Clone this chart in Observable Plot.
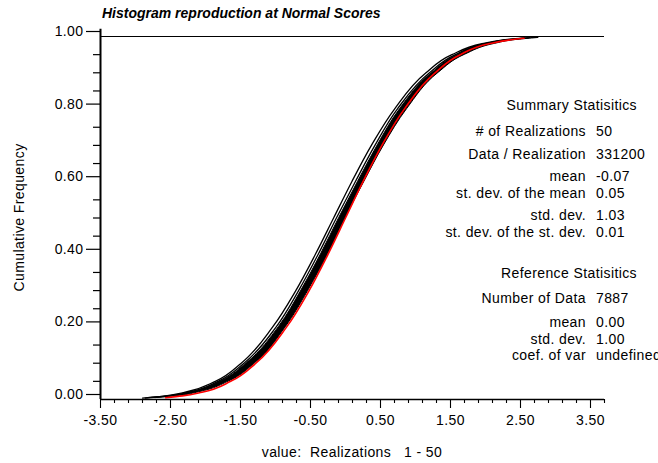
<!DOCTYPE html>
<html><head><meta charset="utf-8">
<script src="https://cdn.jsdelivr.net/npm/d3@7"></script>
<script src="https://cdn.jsdelivr.net/npm/@observablehq/plot@0.6"></script>
<style>
html,body{margin:0;padding:0;background:#fff;}
#chart{width:658px;height:463px;overflow:hidden;}
#chart svg{display:block;}
</style></head><body><div id="chart"></div>
<script>
// ---- text ----
const title = "Histogram reproduction at Normal Scores";
const xLabel = "value:  Realizations   1 - 50";
const yLabel = "Cumulative Frequency";

// ---- axis ticks ----
const xDomain = [-3.5, 3.7];
const yDomain = [0, 1];
const xMajorTicks = [-3.5, -2.5, -1.5, -0.5, 0.5, 1.5, 2.5, 3.5];
const xMinorTicks = [-3.3, -3.1, -2.9, -2.7, -2.3, -2.1, -1.9, -1.7, -1.3, -1.1, -0.9, -0.7,
  -0.3, -0.1, 0.1, 0.3, 0.7, 0.9, 1.1, 1.3, 1.7, 1.9, 2.1, 2.3, 2.7, 2.9, 3.1, 3.3, 3.7];
const yMajorTicks = [0, 0.2, 0.4, 0.6, 0.8, 1.0];
const yMinorTicks = [0.05, 0.1, 0.15, 0.25, 0.3, 0.35, 0.45, 0.5, 0.55, 0.65, 0.7, 0.75, 0.85, 0.9, 0.95];

// ---- realizations (values read at fixed cumulative frequencies) ----
const cumFreq = [0.004, 0.01, 0.02, 0.05, 0.10, 0.20, 0.30, 0.40, 0.50, 0.60, 0.70, 0.80, 0.90, 0.95, 0.98, 0.99, 0.996];
const outerRealization = [-2.90, -2.57, -2.29, -1.86, -1.49, -1.04, -0.71, -0.43, -0.17, 0.09, 0.37, 0.70, 1.15, 1.52, 1.95, 2.23, 2.56];
const secondRealization = [-2.86, -2.52, -2.24, -1.82, -1.45, -0.99, -0.67, -0.39, -0.13, 0.14, 0.42, 0.74, 1.20, 1.57, 1.99, 2.27, 2.61];
const bundleLeft  = [-2.82, -2.48, -2.20, -1.78, -1.41, -0.95, -0.63, -0.35, -0.09, 0.18, 0.46, 0.78, 1.24, 1.61, 2.03, 2.31, 2.65];
const bundleRight = [-2.70, -2.37, -2.09, -1.66, -1.29, -0.85, -0.53, -0.25, 0.00, 0.27, 0.55, 0.88, 1.33, 1.71, 2.14, 2.42, 2.76];

// ---- reference distribution (red) ----
const refFreq   = [0.005, 0.01, 0.02, 0.05, 0.10, 0.20, 0.30, 0.40, 0.50, 0.60, 0.70, 0.80, 0.90, 0.95, 0.98, 0.99, 0.995];
const refValues = [-2.57, -2.33, -2.05, -1.64, -1.28, -0.84, -0.52, -0.25, 0.00, 0.25, 0.52, 0.84, 1.28, 1.64, 2.05, 2.33, 2.55];

// ---- statistics ----
const summaryHeader = "Summary Statisitics";
const summaryLabels = ["# of Realizations", "Data / Realization", "mean", "st. dev. of the mean", "std. dev.", "st. dev. of the st. dev."];
const summaryValues = ["50", "331200", "-0.07", "0.05", "1.03", "0.01"];
const referenceHeader = "Reference Statisitics";
const referenceLabels = ["Number of Data", "mean", "std. dev.", "coef. of var"];
const referenceValues = ["7887", "0.00", "1.00", "undefined"];

// ---- build tables ----
const band = cumFreq.map((f, i) => ({f, x1: bundleLeft[i], x2: bundleRight[i]}));
const lines = [
  ...cumFreq.map((f, i) => ({id: "outer", f, v: outerRealization[i]})),
  ...cumFreq.map((f, i) => ({id: "second", f, v: secondRealization[i]}))
];
const ref = refFreq.map((f, i) => ({f, v: refValues[i]}));

const FONT = "'Liberation Sans', Arial, Helvetica, sans-serif";
const fmt = d => d.toFixed(2);

const chart = Plot.plot({
  width: 658, height: 463,
  marginLeft: 100, marginRight: 54, marginTop: 36, marginBottom: 64,
  style: {fontFamily: FONT, fontSize: "14px", background: "#fff", color: "#000"},
  x: {domain: xDomain},
  y: {domain: yDomain},
  marks: [
    Plot.areaX(band, {y: "f", x1: "x1", x2: "x2", curve: "monotone-y", fill: "#000", stroke: "#000", strokeWidth: 1}),
    Plot.line(lines, {x: "v", y: "f", z: "id", curve: "monotone-y", stroke: "#000", strokeWidth: 1.3}),
    Plot.line(ref, {x: "v", y: "f", curve: "monotone-y", stroke: "#ff0000", strokeWidth: 1.6}),
    Plot.ruleY([yDomain[1]], {stroke: "#000", strokeWidth: 1}),
    Plot.ruleY([yDomain[0]], {stroke: "#000", strokeWidth: 1.5}),
    Plot.ruleX([xDomain[0]], {y1: yDomain[0], y2: 1.02, stroke: "#000", strokeWidth: 2}),
    Plot.axisX({ticks: xMajorTicks, tickSize: 9, tickPadding: 7, tickFormat: fmt, label: null, fontSize: 14, stroke: "#000", strokeWidth: 1.1}),
    Plot.axisX({ticks: xMinorTicks, tickSize: 4, tickFormat: () => "", label: null, stroke: "#000", strokeWidth: 1.1}),
    Plot.axisY({ticks: yMajorTicks, tickSize: 14, tickPadding: 3, tickFormat: fmt, label: null, fontSize: 14, dy: -5, stroke: "#000", strokeWidth: 1.2}),
    Plot.axisY({ticks: yMinorTicks, tickSize: 7, tickFormat: () => "", label: null, stroke: "#000", strokeWidth: 1.2})
  ]
});

document.getElementById("chart").appendChild(chart);

const svg = d3.select(chart);
svg.selectAll("text").attr("letter-spacing", "0.4");

const addText = (txt, x, y, opts = {}) => {
  const t = svg.append("text")
    .attr("x", x).attr("y", y)
    .attr("font-family", FONT)
    .attr("font-size", opts.size || 14)
    .attr("letter-spacing", opts.ls != null ? opts.ls : 0.4)
    .attr("text-anchor", opts.anchor || "start")
    .attr("fill", "#000")
    .style("white-space", "pre")
    .text(txt);
  if (opts.bold) t.attr("font-weight", "bold");
  if (opts.italic) t.attr("font-style", "italic");
  if (opts.rotate) t.attr("transform", `rotate(-90 ${x} ${y})`);
  return t;
};

// title
addText(title, 102, 18, {size: 14, bold: true, italic: true, ls: 0});
// axis labels
addText(xLabel, 352, 457, {anchor: "middle"});
addText(yLabel, 24, 217.5, {anchor: "middle", rotate: true});

// statistics
const labelRight = 586, valueLeft = 596, headerRight = 637;
addText(summaryHeader, headerRight, 110, {anchor: "end"});
const summaryY = [136, 159, 181, 198, 220, 236.5];
summaryLabels.forEach((l, i) => {
  addText(l, labelRight, summaryY[i], {anchor: "end"});
  addText(summaryValues[i], valueLeft, summaryY[i]);
});
addText(referenceHeader, headerRight, 278, {anchor: "end"});
const referenceY = [302.5, 327, 344, 359.5];
referenceLabels.forEach((l, i) => {
  addText(l, labelRight, referenceY[i], {anchor: "end"});
  addText(referenceValues[i], valueLeft, referenceY[i]);
});
</script></body></html>
